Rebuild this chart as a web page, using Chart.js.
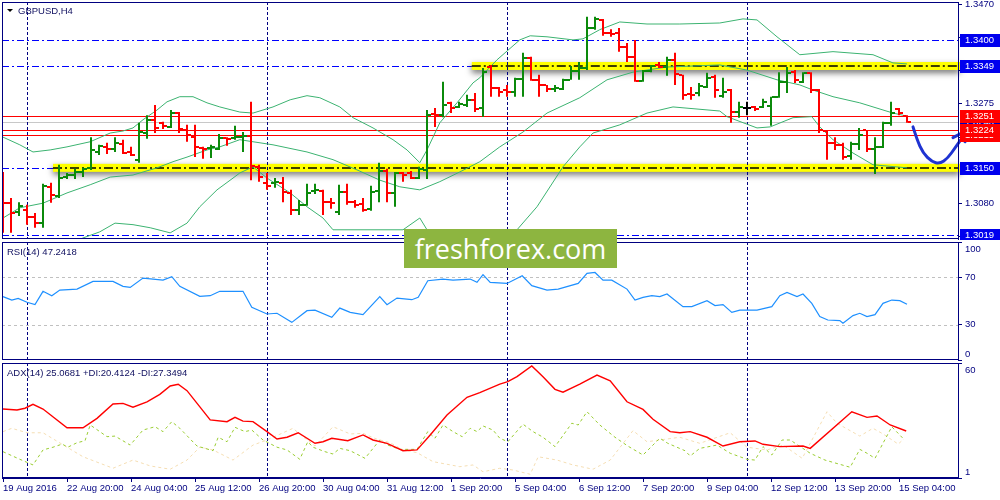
<!DOCTYPE html>
<html>
<head>
<meta charset="utf-8">
<title>GBPUSD,H4</title>
<script src="https://cdn.jsdelivr.net/npm/chart.js@4.4.1/dist/chart.umd.min.js"></script>
<style>
html, body { margin: 0; padding: 0; background: #fff; }
#wrap { position: relative; width: 1000px; height: 500px; overflow: hidden; }
#wrap canvas { position: absolute; left: 0; }
#wm { position: absolute; left: 404px; top: 229px; width: 213px; height: 39px; background: #8db540;
      color: #fff; font: 27px "Open Sans", sans-serif; line-height: 39px; text-align: center; }
</style>
</head>
<body>
<div id="wrap">
  <canvas id="priceChart" width="1000" height="240" style="top:0"></canvas>
  <canvas id="rsiChart" width="1000" height="122" style="top:240px"></canvas>
  <canvas id="adxChart" width="1000" height="138" style="top:362px"></canvas>
  <div id="wm">freshforex.com</div>
</div>
<script>
// ---- data (H4 bars, index 0 = first visible bar) ----
const symbolTitle = "GBPUSD,H4";
const dateLabels = ["19 Aug 2016", "22 Aug 20:00", "24 Aug 04:00", "25 Aug 12:00", "26 Aug 20:00",
  "30 Aug 04:00", "31 Aug 12:00", "1 Sep 20:00", "5 Sep 04:00", "6 Sep 12:00", "7 Sep 20:00",
  "9 Sep 04:00", "12 Sep 12:00", "13 Sep 20:00", "15 Sep 04:00"];
const dateBars = [0, 8, 16, 24, 32, 40, 48, 56, 64, 72, 80, 88, 96, 104, 112];
const gridBars = [3, 33, 63, 93];

const open = [
  1.3107,1.3082,1.3064,1.3068,1.3054,1.3042,1.3113,1.3095,1.3132,1.3136,
  1.3142,1.3150,1.3181,1.3191,1.3187,1.3197,1.3181,1.3166,1.3218,1.3244,
  1.3238,1.3230,1.3257,1.3224,1.3210,1.3189,1.3189,1.3187,1.3209,1.3209,
  1.3210,1.3212,1.3152,1.3121,1.3121,1.3121,1.3101,1.3068,1.3078,1.3105,
  1.3105,1.3083,1.3064,1.3103,1.3083,1.3080,1.3070,1.3105,1.3144,1.3101,
  1.3140,1.3140,1.3130,1.3146,1.3255,1.3253,1.3277,1.3269,1.3273,1.3283,
  1.3267,1.3347,1.3306,1.3302,1.3298,1.3324,1.3365,1.3322,1.3312,1.3304,
  1.3304,1.3322,1.3339,1.3345,1.3423,1.3439,1.3414,1.3414,1.3386,1.3367,
  1.3320,1.3339,1.3351,1.3347,1.3361,1.3332,1.3294,1.3296,1.3308,1.3328,
  1.3291,1.3302,1.3259,1.3267,1.3269,1.3269,1.3271,1.3289,1.3318,1.3337,
  1.3318,1.3335,1.3302,1.3222,1.3199,1.3195,1.3173,1.3197,1.3224,1.3187,
  1.3191,1.3238,1.3265,1.3251];
const high = [
  1.3142,1.3091,1.3083,1.3078,1.3062,1.3119,1.3121,1.3156,1.3140,1.3148,
  1.3150,1.3210,1.3195,1.3199,1.3210,1.3205,1.3191,1.3238,1.3253,1.3273,
  1.3240,1.3263,1.3259,1.3234,1.3234,1.3191,1.3195,1.3216,1.3210,1.3232,
  1.3220,1.3279,1.3156,1.3140,1.3130,1.3132,1.3107,1.3087,1.3119,1.3119,
  1.3107,1.3091,1.3117,1.3119,1.3087,1.3091,1.3115,1.3160,1.3148,1.3142,
  1.3142,1.3144,1.3152,1.3263,1.3267,1.3318,1.3279,1.3279,1.3293,1.3296,
  1.3345,1.3351,1.3308,1.3312,1.3326,1.3375,1.3367,1.3332,1.3312,1.3312,
  1.3324,1.3349,1.3357,1.3445,1.3445,1.3441,1.3421,1.3423,1.3394,1.3400,
  1.3341,1.3351,1.3357,1.3367,1.3375,1.3332,1.3308,1.3316,1.3336,1.3332,
  1.3326,1.3304,1.3279,1.3279,1.3271,1.3285,1.3289,1.3337,1.3347,1.3341,
  1.3337,1.3337,1.3304,1.3224,1.3210,1.3199,1.3201,1.3228,1.3224,1.3210,
  1.3240,1.3279,1.3267,1.3253];
const low = [
  1.3023,1.3023,1.3056,1.3039,1.3033,1.3033,1.3082,1.3091,1.3128,1.3128,
  1.3132,1.3146,1.3175,1.3177,1.3181,1.3177,1.3173,1.3160,1.3207,1.3218,
  1.3226,1.3228,1.3218,1.3201,1.3171,1.3168,1.3169,1.3185,1.3193,1.3205,
  1.3181,1.3126,1.3123,1.3107,1.3111,1.3083,1.3058,1.3058,1.3076,1.3099,
  1.3058,1.3070,1.3058,1.3078,1.3072,1.3064,1.3066,1.3083,1.3083,1.3074,
  1.3123,1.3128,1.3128,1.3128,1.3230,1.3249,1.3257,1.3267,1.3269,1.3259,
  1.3250,1.3289,1.3289,1.3289,1.3289,1.3289,1.3320,1.3289,1.3298,1.3298,
  1.3302,1.3322,1.3322,1.3341,1.3420,1.3408,1.3406,1.3377,1.3357,1.3318,
  1.3318,1.3337,1.3345,1.3330,1.3312,1.3283,1.3283,1.3290,1.3306,1.3287,
  1.3287,1.3238,1.3248,1.3253,1.3261,1.3267,1.3232,1.3287,1.3296,1.3316,
  1.3316,1.3296,1.3218,1.3166,1.3185,1.3166,1.3166,1.3185,1.3181,1.3138,
  1.3189,1.3232,1.3253,1.3238];
const close = [
  1.3082,1.3062,1.3076,1.3054,1.3042,1.3115,1.3097,1.3130,1.3136,1.3142,
  1.3148,1.3185,1.3193,1.3187,1.3199,1.3179,1.3175,1.3220,1.3244,1.3228,
  1.3232,1.3257,1.3226,1.3214,1.3191,1.3187,1.3191,1.3209,1.3207,1.3210,
  1.3212,1.3154,1.3132,1.3115,1.3122,1.3103,1.3068,1.3078,1.3101,1.3107,
  1.3083,1.3081,1.3103,1.3083,1.3078,1.3068,1.3103,1.3144,1.3101,1.3140,
  1.3136,1.3130,1.3148,1.3253,1.3253,1.3273,1.3267,1.3275,1.3283,1.3265,
  1.3337,1.3306,1.3298,1.3298,1.3324,1.3365,1.3322,1.3312,1.3304,1.3306,
  1.3322,1.3339,1.3345,1.3423,1.3441,1.3414,1.3412,1.3386,1.3367,1.3320,
  1.3339,1.3349,1.3347,1.3361,1.3334,1.3293,1.3292,1.3310,1.3326,1.3302,
  1.3298,1.3259,1.3269,1.3267,1.3265,1.3279,1.3289,1.3318,1.3335,1.3322,
  1.3335,1.3302,1.3224,1.3199,1.3195,1.3171,1.3197,1.3214,1.3187,1.3191,
  1.3238,1.3257,1.3257,1.3240];

// Bollinger bands, [bar, price]
const bbUpper = [[0,1.3210],[2.1,1.3195],[3.75,1.3181],[5.9,1.3185],[8,1.3191],[10.9,1.3201],[13.4,1.3218],
  [15,1.3222],[16.25,1.3228],[17.5,1.3244],[19.25,1.3263],[20.5,1.3279],[22.1,1.3289],[23.75,1.3289],
  [25.5,1.3277],[27.1,1.3269],[29.6,1.3259],[31.25,1.3257],[33.75,1.3269],[35.9,1.3283],[38,1.3291],
  [39.6,1.3287],[42.1,1.3269],[43.75,1.3248],[46.25,1.3228],[48.75,1.3205],[50.5,1.3185],[52.1,1.3160],
  [53,1.3185],[54.6,1.3238],[56.75,1.3277],[58.75,1.3316],[59.6,1.3326],[61.75,1.3361],[64.6,1.3400],
  [65.9,1.3408],[68,1.3406],[71.25,1.3400],[72.5,1.3402],[74.6,1.3420],[77.1,1.3435],[80.5,1.3431],
  [84.6,1.3431],[89.6,1.3433],[92.5,1.3441],[94.25,1.3439],[96.75,1.3406],[99.6,1.3371],[103.75,1.3377],
  [108.75,1.3371],[111.25,1.3355],[113,1.3353]];
const bbMiddle = [[0,1.3052],[2.1,1.3072],[5,1.3081],[8,1.3101],[10.9,1.3117],[13.4,1.3132],[16.25,1.3136],
  [19.25,1.3150],[21.25,1.3162],[23,1.3171],[25.5,1.3185],[27.1,1.3191],[29.6,1.3205],[31.25,1.3201],
  [33.75,1.3195],[38,1.3181],[41.25,1.3166],[44.25,1.3146],[47.1,1.3126],[49.6,1.3113],[52.1,1.3107],
  [54.6,1.3123],[57.1,1.3142],[59.6,1.3162],[62.1,1.3191],[65,1.3220],[68,1.3257],[72.1,1.3287],
  [75.5,1.3322],[78.75,1.3337],[83,1.3347],[89.6,1.3351],[93,1.3341],[96.75,1.3322],[99.6,1.3312],
  [101.25,1.3302],[103.75,1.3289],[107.1,1.3277],[111.25,1.3257],[113,1.3251]];
const bbLower = [[7,1.2990],[10,1.3013],[12.1,1.3025],[14,1.3042],[16.25,1.3039],[18.4,1.3033],[20.9,1.3023],
  [23,1.3042],[24.6,1.3074],[26.75,1.3107],[28.75,1.3130],[29.6,1.3140],[31.25,1.3152],[33,1.3130],
  [35.9,1.3101],[38,1.3074],[40,1.3052],[41.25,1.3029],[45,1.3029],[50,1.3029],[52.1,1.3052],[53,1.3029],
  [55,1.2995],[60,1.2990],[63,1.3005],[64.25,1.3029],[66.75,1.3074],[70,1.3152],[72.1,1.3191],[73.75,1.3218],
  [77.1,1.3234],[80.5,1.3257],[83.75,1.3269],[89.6,1.3261],[90.5,1.3250],[94.25,1.3228],[95.9,1.3230],
  [98.75,1.3248],[101.1,1.3250],[102.1,1.3230],[103.75,1.3205],[106.25,1.3179],[108.75,1.3156],[113,1.3150]];

// levels and labels on the price axis
const priceTicks = [1.3470, 1.3405, 1.3340, 1.3275, 1.3210, 1.3145, 1.3080, 1.3015];
const blueLevels = [1.3400, 1.3349, 1.3150, 1.3019];
const redLevels = [1.3251, 1.3224, 1.3215];
const bidLevel = 1.3240;
const zoneLevels = [1.3349, 1.3150];
const zoneStartBars = [58.6, 6.25];
// hand drawn forecast arrow, [bar, price]
const arrowPath = [[113.75,1.3230],[114.25,1.3205],[115,1.3179],[116.1,1.3162],[117.1,1.3158],[118.1,1.3169],
  [119,1.3189],[119.9,1.3209],[120.6,1.3222],[121.1,1.3228]];
const arrowHead = [[118.75,1.3209],[121.1,1.3228],[120.25,1.3201]];

// RSI(14), [bar, value]
const rsiTicks = [0, 30, 70, 100];
const rsiLevels = [30, 70];
const rsiPoints = [[0,53.7],[1.1,50.8],[1.9,52.2],[3,48.9],[4,46.9],[5,58.2],[6.1,54.5],[7.1,59.3],[9.25,60.1],
  [11.25,66.6],[13.75,66.6],[15,62.4],[15.9,61.5],[17.5,69.4],[20,67.7],[21.1,70.6],[22.1,62.4],[24.6,53.9],
  [25.9,54.5],[27.1,58.2],[30,58.2],[31.1,44.6],[33,39],[34.25,39.6],[36.1,31.9],[38,41.8],[39,42.3],
  [41.1,36.2],[42.1,44],[43.4,40.4],[45,38.4],[47.1,53.7],[48,46.9],[49.25,52.5],[51.1,51.1],[51.9,53.1],
  [53.1,67.2],[55,68.6],[56.25,67.7],[58.4,68.6],[59.25,65.8],[60,72.3],[60.9,65.8],[63,64.9],[64.9,71.4],
  [66.1,63],[68,59.3],[69.4,60.1],[71.9,64.9],[73,73.4],[74,74.2],[75,67.7],[76.1,67.7],[78,60.1],[79,50.8],
  [80,53.1],[81.1,54.5],[82.1,53.7],[83,55.9],[85,45.2],[86.1,45.2],[88,50.3],[89,46.1],[90,46.9],[91.1,40.4],
  [92.1,42.3],[94.25,42.3],[96.1,45.2],[97.1,54.5],[98,57.3],[99.25,53.7],[100,55.9],[101.1,48],[102.1,36.8],
  [103.1,33.9],[104.6,33.4],[105,31.1],[106.25,37.6],[107.1,39.6],[108,36.8],[109,38.4],[110,48],[111.1,50.8],
  [112.1,50.3],[113,47.2]];

// ADX(14), +DI, -DI, [bar, value]
const adxTicks = [1, 60];
const adxPoints = [[0,36.4],[1.75,35.9],[2.75,36.8],[3.75,38.8],[5,36.4],[8,26.8],[10,26.8],[11.75,31.6],
  [13.75,39],[15,39.3],[16.25,37.3],[18,40.1],[19.6,43.9],[20.9,48.2],[21.9,49.1],[23,45.8],[25.9,30.8],
  [28,29.9],[29,32.1],[30,30.2],[31.25,29.9],[33,24.8],[34.25,21],[35.5,21.9],[36.9,24.2],[39,18.8],[40,19.6],
  [41.1,21.4],[43.1,20.1],[45,23.1],[46.25,20.5],[48,18.8],[50,15],[51.75,15.4],[53.4,23.1],[55.5,33.3],
  [58,42.4],[59.6,44.8],[62.1,49.2],[63.1,50.4],[64.25,53],[66.1,58.5],[67.5,53],[69,46.5],[70,45],[72.1,49.2],
  [74.25,53.8],[75.9,50.9],[78,40.1],[80,36.2],[81.25,31.1],[83.4,24.8],[84.6,24.2],[85.9,24.8],[88,21.9],
  [90,17.4],[92.1,19.6],[94,20],[95,18.3],[97.1,17.1],[100,17.4],[100.9,16.2],[106.1,35],[108,32.1],
  [109.25,32.8],[110.9,28.2],[112.9,25.1]];
const plusDiPoints = [[0,14.5],[2.1,10.6],[3.75,7.7],[5,15.4],[6.25,16.8],[7.4,18.4],[8.1,16.8],[9.25,19.1],
  [10.25,20.1],[10.9,28.2],[12.1,24.8],[13,22.2],[14,22.5],[15.9,17.9],[17.5,25.6],[19,27.3],[20,24.8],
  [21.1,29.9],[22.1,26.5],[24.25,17.4],[26.25,15],[26.9,21.9],[28,19.6],[29,27],[30.25,24.8],[31.1,25.6],
  [32.5,20.5],[34.25,16.8],[35.5,15.4],[37.1,10.6],[38.1,19.6],[38.75,16.8],[40.25,14.5],[41.25,13.3],
  [42.1,16.2],[43.4,15],[45.25,11.1],[47.1,20.5],[48.1,17.9],[49.6,15.7],[51.75,15.7],[53.1,24.8],[54,21.4],
  [55,28.2],[56.25,24.8],[57.4,22.2],[58.4,26.5],[59.25,24.8],[60,27.7],[61.25,25.6],[62.1,21.4],[63.1,19.6],
  [65,28.6],[66.25,24.8],[67.5,21.9],[69,17.1],[71.1,29.1],[71.9,28.2],[73,35],[74.6,28.2],[76.5,21.9],
  [78.1,17.4],[80,12.8],[82.1,21.4],[83.1,18.8],[85.25,15],[85.9,12.3],[87.1,16.2],[89.25,17.9],[90.9,13.7],
  [93,10.6],[94,10.2],[95,17.1],[96.1,12.8],[97.4,20.5],[98.4,20.5],[100.9,13.7],[102.75,10.2],[105.9,6.5],
  [107.1,15.7],[108,13.7],[109,11.1],[111.1,27.3],[112.6,20.9]];
const minusDiPoints = [[0,24.8],[1.1,26.5],[3,24.2],[5,24.2],[8,16.8],[10,11.9],[13.75,6],[16.25,10.2],
  [18.4,7.2],[20.9,5.5],[23,10.2],[24.6,16.8],[26.25,15.4],[28.75,10.2],[31.25,17.9],[33,20.5],[36.25,26.5],
  [37.4,22.5],[39,17.4],[41.25,27.3],[43.4,23.6],[45,23.9],[46.75,20.9],[48.4,19.1],[50,15.4],[51.75,14],
  [53.75,9.4],[57.1,6.8],[58.75,7.7],[60,4.2],[62.1,6],[63.75,5.1],[65.9,2.9],[66.9,11.9],[69.25,10.2],
  [71.25,7.7],[73.75,5.5],[75.9,10.2],[78.75,25.3],[80.5,19.6],[82.1,20.5],[84.6,21.9],[87.1,18.8],[90.9,24.2],
  [93,16.8],[95.5,15.4],[97.5,17.9],[99.9,11.1],[103,35],[104.25,29.1],[107.1,22.5],[108.75,26.5],[110,23.6],
  [111.9,18.4],[112.6,21]];

// ---- styling ----
const NAVY = "#000080";
const FONT = '"Liberation Sans", Arial, sans-serif';
const X_MIN = -0.125, X_MAX = 119.375;
Chart.defaults.font.family = FONT;
Chart.defaults.font.size = 9.5;

const barColor = i => close[i] > open[i] ? "#0b8a0b" : (close[i] < open[i] ? "#ff0000" : "#000000");
const toXY = arr => arr.map(p => ({ x: p[0], y: p[1] }));
// keep axis label overflow from shrinking the plot area
const noPad = s => { s.paddingTop = 0; s.paddingBottom = 0; s.paddingLeft = 0; s.paddingRight = 0; };

function hLine(ctx, a, py, x0) {
  py = Math.round(py) + 0.5;
  ctx.beginPath(); ctx.moveTo(x0 === undefined ? a.left : x0, py); ctx.lineTo(a.right, py); ctx.stroke();
}

function drawVGrid(chart) {
  const { ctx, chartArea: a, scales: { x } } = chart;
  ctx.save();
  ctx.strokeStyle = NAVY; ctx.lineWidth = 1; ctx.setLineDash([3, 2]);
  gridBars.forEach(b => {
    const px = Math.round(x.getPixelForValue(b)) + 0.5;
    ctx.beginPath(); ctx.moveTo(px, a.top); ctx.lineTo(px, a.bottom); ctx.stroke();
  });
  ctx.restore();
}

function drawFrame(chart) {
  const { ctx, chartArea: a } = chart;
  ctx.save();
  ctx.strokeStyle = NAVY; ctx.lineWidth = 1;
  ctx.strokeRect(a.left + 0.5, a.top + 0.5, a.right - a.left, a.bottom - a.top - 1);
  ctx.restore();
}

function drawPanelText(ctx, text, x, y) {
  ctx.save();
  ctx.fillStyle = "#101060"; ctx.font = "9.5px " + FONT; ctx.textBaseline = "middle"; ctx.textAlign = "left";
  ctx.fillText(text, x, y);
  ctx.restore();
}

function labelBox(ctx, y, value, color) {
  const py = Math.round(y.getPixelForValue(value));
  ctx.fillStyle = color;
  ctx.fillRect(960, py - 6, 40, 13);
  ctx.fillStyle = "#ffffff";
  ctx.textAlign = "left"; ctx.textBaseline = "middle";
  ctx.fillText(value.toFixed(4), 965, py + 0.5);
}

const pricePanel = {
  id: "pricePanel",
  beforeDatasetsDraw(chart) {
    const { ctx, chartArea: a, scales: { x, y } } = chart;
    ctx.save();
    ctx.lineWidth = 1;
    ctx.strokeStyle = "#0000ff"; ctx.setLineDash([7, 3, 2, 3]);
    blueLevels.forEach(v => hLine(ctx, a, y.getPixelForValue(v)));
    ctx.setLineDash([]);
    ctx.strokeStyle = "#c8c8c8";
    hLine(ctx, a, y.getPixelForValue(bidLevel));
    ctx.strokeStyle = "#ff0000";
    redLevels.forEach(v => hLine(ctx, a, y.getPixelForValue(v)));
    zoneLevels.forEach((v, k) => {
      const py = y.getPixelForValue(v);
      const x0 = x.getPixelForValue(zoneStartBars[k]);
      ctx.save();
      ctx.shadowColor = "rgba(0,0,0,0.55)"; ctx.shadowBlur = 6; ctx.shadowOffsetY = 3;
      ctx.fillStyle = "#ffff00";
      ctx.fillRect(x0, py - 4, a.right + 2 - x0, 8);
      ctx.restore();
      ctx.strokeStyle = "#000000"; ctx.lineWidth = 1.5; ctx.setLineDash([9, 3, 2, 3]);
      ctx.beginPath(); ctx.moveTo(x0, Math.round(py)); ctx.lineTo(a.right, Math.round(py)); ctx.stroke();
    });
    ctx.restore();
    drawVGrid(chart);
  },
  afterDatasetsDraw(chart) {
    const { ctx, chartArea: a, scales: { x, y } } = chart;
    ctx.save();
    ctx.beginPath(); ctx.rect(a.left, a.top, a.right - a.left, a.bottom - a.top); ctx.clip();
    open.forEach((o, i) => {
      const px = x.getPixelForValue(i);
      ctx.fillStyle = barColor(i);
      ctx.fillRect(px - 4, Math.round(y.getPixelForValue(o)) - 1, 3, 2);
      ctx.fillRect(px + 1, Math.round(y.getPixelForValue(close[i])) - 1, 3, 2);
    });
    ctx.restore();
    // forecast arrow (runs into the axis area)
    ctx.save();
    ctx.strokeStyle = "#1f33d2"; ctx.lineWidth = 3; ctx.lineCap = "round"; ctx.lineJoin = "round";
    const pts = arrowPath.map(p => ({ x: x.getPixelForValue(p[0]), y: y.getPixelForValue(p[1]) }));
    ctx.beginPath(); ctx.moveTo(pts[0].x, pts[0].y);
    for (let k = 1; k < pts.length - 1; k++) {
      ctx.quadraticCurveTo(pts[k].x, pts[k].y, (pts[k].x + pts[k + 1].x) / 2, (pts[k].y + pts[k + 1].y) / 2);
    }
    ctx.lineTo(pts[pts.length - 1].x, pts[pts.length - 1].y);
    ctx.stroke();
    const hp = arrowHead.map(p => ({ x: x.getPixelForValue(p[0]), y: y.getPixelForValue(p[1]) }));
    ctx.beginPath(); ctx.moveTo(hp[0].x, hp[0].y); ctx.lineTo(hp[1].x, hp[1].y); ctx.lineTo(hp[2].x, hp[2].y); ctx.stroke();
    ctx.restore();
  },
  afterDraw(chart) {
    const { ctx, scales: { y } } = chart;
    drawFrame(chart);
    ctx.save();
    ctx.font = "9.5px " + FONT;
    labelBox(ctx, y, bidLevel, "#0000c0");
    labelBox(ctx, y, redLevels[2], "#ff0000");
    labelBox(ctx, y, redLevels[0], "#ff0000");
    labelBox(ctx, y, redLevels[1], "#ff0000");
    blueLevels.forEach(v => labelBox(ctx, y, v, "#0000ee"));
    // title with the small menu triangle
    ctx.fillStyle = "#000000";
    ctx.beginPath(); ctx.moveTo(7, 9); ctx.lineTo(13, 9); ctx.lineTo(10, 12); ctx.closePath(); ctx.fill();
    ctx.restore();
    drawPanelText(ctx, symbolTitle, 18, 11);
  }
};

function subPanel(title, levels, ticks) {
  return {
    id: "subPanel",
    beforeDatasetsDraw(chart) {
      const { ctx, chartArea: a, scales: { y } } = chart;
      ctx.save();
      ctx.strokeStyle = "#c0c0c0"; ctx.lineWidth = 1; ctx.setLineDash([3, 3]);
      levels.forEach(v => hLine(ctx, a, y.getPixelForValue(v)));
      ctx.restore();
      drawVGrid(chart);
    },
    afterDraw(chart) {
      const { ctx, chartArea: a, scales: { y } } = chart;
      drawFrame(chart);
      drawPanelText(chart.ctx, title, 7, a.top + 10);
      ctx.save();
      ctx.fillStyle = NAVY; ctx.font = "9.5px " + FONT; ctx.textBaseline = "middle"; ctx.textAlign = "left";
      ticks.forEach(v => {
        const py = Math.min(Math.max(y.getPixelForValue(v), a.top + 7), a.bottom - 6);
        ctx.fillText(String(v), 965, py);
      });
      ctx.restore();
    }
  };
}

const baseOptions = () => ({
  responsive: false,
  animation: false,
  events: [],
  plugins: { legend: { display: false }, tooltip: { enabled: false } }
});

const yAxisStyle = {
  position: "right",
  afterFit: s => { s.width = 42; noPad(s); },
  grid: { drawOnChartArea: false, color: NAVY, tickLength: 4 },
  border: { color: NAVY }
};

// ---- price panel ----
new Chart(document.getElementById("priceChart"), {
  type: "bar",
  data: {
    datasets: [
      {
        type: "bar",
        data: high.map((h, i) => ({ x: i, y: [low[i], h] })),
        backgroundColor: high.map((h, i) => barColor(i)),
        barThickness: 2,
        borderWidth: 0,
        inflateAmount: 0
      },
      { type: "line", data: toXY(bbUpper), borderColor: "#3cb371", borderWidth: 1, pointRadius: 0, tension: 0 },
      { type: "line", data: toXY(bbMiddle), borderColor: "#3cb371", borderWidth: 1, pointRadius: 0, tension: 0 },
      { type: "line", data: toXY(bbLower), borderColor: "#3cb371", borderWidth: 1, pointRadius: 0, tension: 0 }
    ]
  },
  options: Object.assign(baseOptions(), {
    layout: { padding: { left: 2, top: 2, right: 0, bottom: 1 } },
    scales: {
      x: { type: "linear", min: X_MIN, max: X_MAX, offset: false, display: false },
      y: Object.assign({}, yAxisStyle, {
        min: 1.3011, max: 1.3474,
        afterBuildTicks: s => { s.ticks = priceTicks.map(v => ({ value: v })); },
        ticks: { color: NAVY, padding: 3, callback: v => Number(v).toFixed(4) }
      })
    }
  }),
  plugins: [pricePanel]
});

// ---- RSI panel ----
new Chart(document.getElementById("rsiChart"), {
  type: "line",
  data: {
    datasets: [{ data: toXY(rsiPoints), borderColor: "#1e90ff", borderWidth: 1.2, pointRadius: 0, tension: 0 }]
  },
  options: Object.assign(baseOptions(), {
    layout: { padding: { left: 2, top: 2, right: 0, bottom: 2 } },
    scales: {
      x: { type: "linear", min: X_MIN, max: X_MAX, display: false },
      y: Object.assign({}, yAxisStyle, {
        min: 0, max: 100,
        afterBuildTicks: s => { s.ticks = rsiTicks.map(v => ({ value: v })); },
        ticks: { display: false }
      })
    }
  }),
  plugins: [subPanel("RSI(14) 47.2418", rsiLevels, rsiTicks)]
});

// ---- ADX panel with the time axis ----
new Chart(document.getElementById("adxChart"), {
  type: "line",
  data: {
    datasets: [
      { data: toXY(adxPoints), borderColor: "#ff0000", borderWidth: 1.4, pointRadius: 0, tension: 0 },
      { data: toXY(plusDiPoints), borderColor: "#9acd32", borderWidth: 1, borderDash: [3, 3], pointRadius: 0, tension: 0 },
      { data: toXY(minusDiPoints), borderColor: "#f5deb3", borderWidth: 1, borderDash: [3, 3], pointRadius: 0, tension: 0 }
    ]
  },
  options: Object.assign(baseOptions(), {
    layout: { padding: { left: 2, top: 1, right: 0, bottom: 0 } },
    scales: {
      x: {
        type: "linear", min: X_MIN, max: X_MAX, position: "bottom",
        afterBuildTicks: s => { s.ticks = dateBars.map(v => ({ value: v })); },
        afterFit: s => { s.height = 22; noPad(s); },
        ticks: {
          autoSkip: false, maxRotation: 0, minRotation: 0, align: "start", padding: 1, color: NAVY,
          callback: (v, i) => dateLabels[i]
        },
        grid: { drawOnChartArea: false, color: NAVY, tickLength: 4 },
        border: { color: NAVY }
      },
      y: Object.assign({}, yAxisStyle, {
        min: 1, max: 60,
        afterBuildTicks: s => { s.ticks = adxTicks.map(v => ({ value: v })); },
        ticks: { display: false }
      })
    }
  }),
  plugins: [subPanel("ADX(14) 25.0681 +DI:20.4124 -DI:27.3494", [], adxTicks)]
});
</script>
</body>
</html>
